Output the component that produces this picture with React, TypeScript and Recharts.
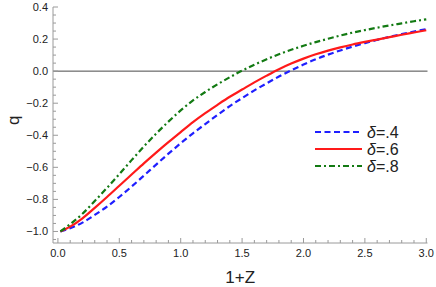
import { Legend, Line, LineChart, ReferenceLine, XAxis, YAxis } from "recharts";

// 1+Z sample points and q values
const xValues = [
  0.02, 0.1, 0.2, 0.3, 0.4, 0.5, 0.6, 0.7, 0.8, 0.9, 1.0, 1.1, 1.2, 1.3, 1.4, 1.5,
  1.6, 1.7, 1.8, 1.9, 2.0, 2.1, 2.2, 2.3, 2.4, 2.5, 2.6, 2.7, 2.8, 2.9, 3.0
];
const qDelta4 = [
  -1.0, -0.98, -0.945, -0.897, -0.845, -0.785, -0.72, -0.652, -0.583, -0.515, -0.45,
  -0.388, -0.33, -0.273, -0.218, -0.168, -0.12, -0.076, -0.034, 0.005, 0.041, 0.074,
  0.103, 0.129, 0.153, 0.175, 0.195, 0.214, 0.231, 0.247, 0.262
];
const qDelta6 = [
  -1.0, -0.97, -0.918, -0.853, -0.785, -0.715, -0.645, -0.575, -0.508, -0.443, -0.38,
  -0.318, -0.262, -0.21, -0.16, -0.115, -0.07, -0.028, 0.012, 0.047, 0.078, 0.105,
  0.128, 0.148, 0.166, 0.182, 0.197, 0.212, 0.227, 0.241, 0.255
];
const qDelta8 = [
  -1.0, -0.955, -0.89, -0.81, -0.728, -0.642, -0.555, -0.47, -0.39, -0.315, -0.245,
  -0.183, -0.13, -0.082, -0.038, 0.003, 0.04, 0.074, 0.105, 0.133, 0.158, 0.181,
  0.202, 0.222, 0.24, 0.256, 0.271, 0.285, 0.298, 0.311, 0.323
];

const xTicks = [
  0, 0.1, 0.2, 0.3, 0.4, 0.5, 0.6, 0.7, 0.8, 0.9, 1.0, 1.1, 1.2, 1.3, 1.4, 1.5,
  1.6, 1.7, 1.8, 1.9, 2.0, 2.1, 2.2, 2.3, 2.4, 2.5, 2.6, 2.7, 2.8, 2.9, 3.0
];
const yTicks = [
  -1.05, -1.0, -0.95, -0.9, -0.85, -0.8, -0.75, -0.7, -0.65, -0.6, -0.55, -0.5, -0.45,
  -0.4, -0.35, -0.3, -0.25, -0.2, -0.15, -0.1, -0.05, 0, 0.05, 0.1, 0.15, 0.2, 0.25,
  0.3, 0.35, 0.4
];

const data = xValues.map((x, i) => ({
  x,
  d4: qDelta4[i],
  d6: qDelta6[i],
  d8: qDelta8[i]
}));

const series = [
  { key: "d4", label: ".4", color: "#1f1fff", dash: "6 3.5" },
  { key: "d6", label: ".6", color: "#ff1a1a", dash: undefined },
  { key: "d8", label: ".8", color: "#137a13", dash: "6 3 2 3" }
];

const FRAME = "#9a9a9a";
const TEXT = "#222";
const FONT = "'Liberation Sans', Arial, sans-serif";

const isMajor = (v: number, step: number) => Math.abs(v / step - Math.round(v / step)) < 1e-6;
const fmt = (v: number) => v.toFixed(1).replace("-", "\u2212");

function BottomTick({ x, y, payload }: any) {
  const major = isMajor(payload.value, 0.5);
  return (
    <g>
      <line x1={x} x2={x} y1={y} y2={y - (major ? 5 : 3)} stroke={FRAME} />
      {major && (
        <text x={x} y={y + 14} textAnchor="middle" fontSize={11} fill={TEXT} fontFamily={FONT}>
          {fmt(payload.value)}
        </text>
      )}
    </g>
  );
}

function TopTick({ x, y, payload }: any) {
  const major = isMajor(payload.value, 0.5);
  return <line x1={x} x2={x} y1={y} y2={y + (major ? 5 : 3)} stroke={FRAME} />;
}

function LeftTick({ x, y, payload }: any) {
  const major = isMajor(payload.value, 0.2);
  return (
    <g>
      <line x1={x} x2={x + (major ? 5 : 3)} y1={y} y2={y} stroke={FRAME} />
      {major && (
        <text x={x - 5} y={y + 4} textAnchor="end" fontSize={11} fill={TEXT} fontFamily={FONT}>
          {fmt(payload.value)}
        </text>
      )}
    </g>
  );
}

function RightTick({ x, y, payload }: any) {
  const major = isMajor(payload.value, 0.2);
  return <line x1={x} x2={x - (major ? 5 : 3)} y1={y} y2={y} stroke={FRAME} />;
}

function LegendBox() {
  return (
    <svg width={110} height={60}>
      {series.map((s, i) => {
        const y = 12 + i * 17;
        return (
          <g key={s.key}>
            <line x1={5} x2={52} y1={y} y2={y} stroke={s.color} strokeWidth={2.2} strokeDasharray={s.dash} />
            <text x={57} y={y + 5.5} fontSize={16} fill={TEXT} fontFamily={FONT}>
              <tspan fontStyle="italic">δ</tspan>={s.label}
            </text>
          </g>
        );
      })}
    </svg>
  );
}

export default function App() {
  return (
    <div style={{ position: "absolute", left: 0, top: 0, width: 436, height: 287, background: "#fff" }}>
      <LineChart width={436} height={287} data={data} margin={{ top: 7, right: 8.5, bottom: 0, left: 0 }}>
        <XAxis
          dataKey="x"
          type="number"
          domain={[-0.04, 3.01]}
          ticks={xTicks}
          interval={0}
          allowDataOverflow
          height={44}
          tickSize={0}
          tickMargin={0}
          tickLine={false}
          axisLine={{ stroke: FRAME }}
          tick={<BottomTick />}
          label={{ value: "1+Z", position: "insideBottom", offset: 4, fontSize: 17, fill: TEXT, fontFamily: FONT }}
        />
        <XAxis
          xAxisId="top"
          orientation="top"
          dataKey="x"
          type="number"
          domain={[-0.04, 3.01]}
          ticks={xTicks}
          interval={0}
          allowDataOverflow
          height={0}
          tickSize={0}
          tickMargin={0}
          tickLine={false}
          axisLine={{ stroke: FRAME }}
          tick={<TopTick />}
        />
        <YAxis
          type="number"
          domain={[-1.072, 0.4]}
          ticks={yTicks}
          interval={0}
          allowDataOverflow
          width={53}
          tickSize={0}
          tickMargin={0}
          tickLine={false}
          axisLine={{ stroke: FRAME }}
          tick={<LeftTick />}
          label={{ value: "q", angle: -90, position: "insideLeft", offset: 13, fontSize: 17, fill: TEXT, fontFamily: FONT }}
        />
        <YAxis
          yAxisId="right"
          orientation="right"
          type="number"
          domain={[-1.072, 0.4]}
          ticks={yTicks}
          interval={0}
          allowDataOverflow
          width={0}
          tickSize={0}
          tickMargin={0}
          tickLine={false}
          axisLine={{ stroke: FRAME }}
          tick={<RightTick />}
        />
        <ReferenceLine y={0} stroke="#4a4a4a" strokeWidth={1} />
        {series.map((s) => (
          <Line
            key={s.key}
            dataKey={s.key}
            type="monotone"
            stroke={s.color}
            strokeWidth={2.2}
            strokeDasharray={s.dash}
            dot={false}
            isAnimationActive={false}
          />
        ))}
        <Legend
          layout="vertical"
          align="center"
          verticalAlign="middle"
          content={() => <LegendBox />}
          wrapperStyle={{ position: "absolute", left: 310, top: 120, width: 110, height: 60 }}
        />
      </LineChart>
    </div>
  );
}
